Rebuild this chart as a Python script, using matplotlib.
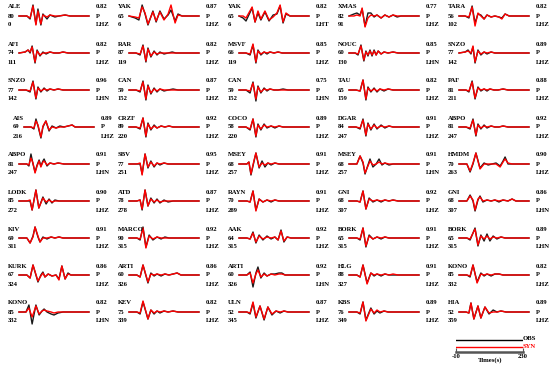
import matplotlib
matplotlib.use("Agg")
import matplotlib.pyplot as plt

W, H = 551, 368

STATIONS = ["ALE", "YAK", "YAK", "XMAS", "TARA",
            "AFI", "RAR", "MSVF", "NOUC", "SNZO",
            "SNZO", "CAN", "CAN", "TAU", "PAF",
            "AIS", "CRZF", "COCO", "DGAR", "ABPO",
            "ABPO", "SBV", "MSEY", "MSEY", "HMDM",
            "LODK", "ATD", "RAYN", "GNI", "GNI",
            "KIV", "MARCO", "AAK", "BORK", "BORK",
            "KURK", "ARTI", "ARTI", "HLG", "KONO",
            "KONO", "KEV", "ULN", "KBS", "HIA"]
AZIMUTHS = [80, 65, 65, 82, 56,
            74, 87, 66, 60, 77,
            77, 59, 59, 65, 81,
            69, 89, 58, 84, 81,
            81, 77, 68, 68, 70,
            85, 78, 70, 68, 68,
            69, 90, 64, 65, 65,
            67, 60, 60, 88, 85,
            85, 75, 52, 76, 52]
DISTANCES = [0, 6, 6, 91, 102,
             111, 119, 119, 130, 142,
             142, 152, 152, 159, 211,
             216, 220, 220, 247, 247,
             247, 251, 257, 257, 263,
             272, 278, 289, 307, 307,
             311, 315, 315, 315, 315,
             324, 326, 326, 327, 332,
             332, 339, 345, 349, 359]
CCS = ["0.82", "0.87", "0.82", "0.77", "0.82",
       "0.82", "0.82", "0.85", "0.85", "0.89",
       "0.96", "0.87", "0.75", "0.82", "0.88",
       "0.89", "0.92", "0.89", "0.91", "0.92",
       "0.91", "0.95", "0.91", "0.91", "0.90",
       "0.90", "0.87", "0.91", "0.92", "0.86",
       "0.91", "0.92", "0.92", "0.91", "0.89",
       "0.86", "0.86", "0.92", "0.91", "0.82",
       "0.82", "0.82", "0.87", "0.89", "0.89"]
PHASES = ["P"] * 45
COMPS = ["LHZ", "LHZ", "LHT", "LHZ", "LHZ",
         "LHZ", "LHZ", "LHZ", "LHN", "LHZ",
         "LHN", "LHZ", "LHN", "LHZ", "LHZ",
         "LHZ", "LHZ", "LHZ", "LHZ", "LHZ",
         "LHN", "LHZ", "LHZ", "LHN", "LHZ",
         "LHZ", "LHZ", "LHZ", "LHZ", "LHN",
         "LHZ", "LHZ", "LHZ", "LHZ", "LHN",
         "LHZ", "LHZ", "LHN", "LHZ", "LHZ",
         "LHN", "LHZ", "LHZ", "LHZ", "LHZ"]

# knot times (s) and amplitudes (display units)
TIMES = [
    [-10, 17, 28, 38, 48, 55, 65, 72, 86, 96, 113, 127, 148, 165, 230],
    [-10, 11, 24, 35, 45, 55, 72, 83, 96, 110, 124, 134, 148, 158, 172, 230],
    [-10, 4, 14, 35, 45, 55, 65, 79, 93, 107, 120, 131, 141, 151, 165, 230],
    [-10, 7, 17, 28, 35, 45, 55, 65, 76, 86, 100, 113, 127, 141, 155, 168, 230],
    [-10, 11, 24, 35, 45, 55, 65, 76, 86, 100, 113, 127, 137, 148, 162, 230],
    [-10, 11, 21, 28, 35, 45, 52, 62, 72, 83, 96, 110, 127, 141, 158, 230],
    [-10, 14, 28, 38, 48, 55, 65, 76, 86, 96, 110, 124, 138, 151, 165, 230],
    [-10, 14, 28, 38, 48, 55, 65, 76, 86, 96, 110, 124, 138, 151, 165, 230],
    [-10, 11, 21, 31, 41, 48, 55, 62, 69, 76, 83, 90, 100, 110, 124, 141, 158, 230],
    [-10, 11, 21, 31, 38, 45, 55, 65, 76, 86, 100, 113, 127, 141, 158, 230],
    [-10, 14, 28, 38, 48, 55, 65, 76, 86, 96, 110, 124, 141, 158, 230],
    [-10, 14, 28, 38, 48, 55, 65, 76, 86, 96, 110, 124, 141, 158, 230],
    [-10, 14, 28, 38, 48, 55, 65, 76, 86, 96, 110, 124, 141, 158, 230],
    [-10, 14, 28, 38, 48, 55, 65, 76, 86, 96, 110, 124, 141, 158, 230],
    [-10, 14, 24, 35, 45, 55, 65, 76, 86, 96, 110, 124, 141, 158, 230],
    [-10, 14, 24, 31, 38, 48, 55, 65, 76, 86, 100, 113, 127, 141, 155, 165, 230],
    [-10, 14, 28, 38, 48, 55, 65, 76, 86, 100, 113, 127, 141, 158, 230],
    [-10, 14, 28, 38, 48, 55, 65, 76, 86, 100, 113, 127, 141, 158, 230],
    [-10, 14, 28, 38, 48, 55, 65, 76, 86, 100, 113, 127, 141, 158, 230],
    [-10, 14, 28, 38, 48, 55, 65, 76, 86, 100, 113, 127, 141, 158, 230],
    [-10, 17, 24, 31, 38, 45, 52, 59, 65, 72, 76, 86, 96, 110, 124, 144, 230],
    [-10, 17, 28, 35, 45, 55, 65, 76, 86, 96, 110, 124, 141, 158, 230],
    [-10, 17, 24, 31, 41, 48, 59, 69, 79, 89, 100, 113, 127, 141, 158, 230],
    [-10, 17, 28, 38, 45, 55, 62, 72, 83, 93, 103, 113, 127, 141, 158, 230],
    [-10, 17, 28, 38, 48, 62, 76, 90, 103, 117, 131, 141, 148, 158, 172, 230],
    [-10, 17, 28, 35, 48, 58, 72, 83, 93, 103, 113, 127, 141, 158, 230],
    [-10, 17, 28, 35, 45, 55, 65, 76, 86, 96, 110, 124, 141, 158, 230],
    [-10, 17, 28, 38, 48, 59, 72, 86, 100, 113, 127, 141, 158, 230],
    [-10, 17, 28, 38, 48, 59, 72, 86, 100, 113, 127, 141, 158, 230],
    [-10, 17, 28, 38, 45, 55, 62, 72, 86, 100, 113, 127, 141, 158, 172, 185, 230],
    [-10, 17, 28, 38, 45, 55, 62, 72, 86, 100, 113, 127, 141, 158, 230],
    [-10, 17, 28, 38, 48, 59, 72, 86, 100, 113, 127, 141, 158, 230],
    [-10, 17, 28, 38, 48, 59, 72, 86, 100, 113, 124, 134, 144, 155, 168, 230],
    [-10, 17, 28, 38, 48, 59, 72, 86, 100, 113, 127, 141, 158, 230],
    [-10, 17, 28, 45, 55, 65, 76, 86, 96, 107, 120, 134, 148, 165, 230],
    [-10, 17, 28, 38, 55, 65, 72, 79, 90, 103, 117, 127, 137, 148, 158, 168, 230],
    [-10, 17, 28, 38, 55, 65, 76, 86, 100, 113, 127, 141, 155, 168, 230],
    [-10, 17, 28, 38, 48, 55, 65, 76, 86, 100, 113, 127, 137, 148, 158, 230],
    [-10, 17, 28, 38, 52, 65, 76, 86, 100, 113, 127, 141, 158, 230],
    [-10, 17, 28, 38, 52, 65, 76, 86, 100, 113, 127, 141, 158, 230],
    [-10, 14, 24, 35, 48, 59, 69, 76, 86, 100, 110, 124, 141, 158, 230],
    [-10, 17, 28, 38, 55, 65, 76, 86, 96, 110, 124, 141, 158, 230],
    [-10, 17, 28, 38, 48, 62, 76, 89, 103, 117, 131, 144, 158, 230],
    [-10, 17, 28, 38, 48, 65, 76, 86, 96, 110, 124, 141, 158, 230],
    [-10, 14, 24, 31, 41, 55, 65, 79, 93, 107, 120, 134, 151, 230],
]
OBS = [
    [0, 0, -3, 11, -8, 7, -9, 2, -3, 1, -1, 0, 1, 0, 0],
    [0, -2, -4, 11, 2, -9, 5, -6, 5, -3, 1, 6, -5, 2, 0, 0],
    [0, -2, -5, 8, -6, 3, -4, 4, -5, 1, 2, 10, -7, 2, 0, 0],
    [0, 2, 3, 1, 7, -10, 3, 3, -1, 1, -2, 1, -1, 1, -1, 0, 0],
    [0, 0, -2, 10, -7, 2, 1, -3, 1, -1, 0, -1, -2, 2, 0, 0],
    [0, 1, 3, 0, 7, -10, 3, -3, 1, -1, 1, 0, 0, 1, 0, 0],
    [0, 0, -2, 8, -9, 5, -4, 2, -2, 1, -1, 0, 1, 0, 0, 0],
    [0, 0, -2, 8, -10, 3, -2, 1, -1, 1, 0, 1, 0, 0, 0, 0],
    [0, 0, -2, 8, -8, 2, -3, 3, -3, 3, -2, 2, -1, 1, 0, 1, 0, 0],
    [0, 1, 3, -1, 6, -10, 3, -2, 1, -1, 1, 0, 0, 0, 0, 0],
    [0, 0, -2, 9, -9, 3, -2, 2, -1, 1, 0, 1, 0, 0, 0],
    [0, 0, -2, 9, -10, 5, -4, 2, -2, 1, -1, 0, 1, 0, 0],
    [0, 0, -3, 8, -11, 4, -3, 2, -1, 1, 0, 0, 1, 0, 0],
    [0, 0, -1, 10, -10, 3, -2, 2, -2, 1, -1, 1, 0, 0, 0],
    [0, 0, -2, 9, -9, 3, -1, 1, -1, 1, 0, 0, 1, 0, 0],
    [0, 0, -2, 8, 1, -11, 0, 6, -4, 1, -1, 1, 0, 1, 2, 0, 0],
    [0, 0, -2, 9, -10, 4, -3, 2, -1, 1, 0, 1, 0, 0, 0],
    [0, 0, -3, 8, -10, 3, -3, 3, -1, 1, -1, 1, 0, 0, 0],
    [0, 0, -2, 8, -9, 4, -3, 3, -2, 2, -1, 1, 0, 0, 0],
    [0, 0, -2, 8, -9, 3, -2, 2, -1, 1, 0, 0, 1, 0, 0],
    [0, 0, -2, 10, 0, -8, -1, 4, -2, 3, 5, -2, 1, 0, 1, 0, 0],
    [0, 0, 0, -10, 10, -4, 3, -3, 1, -1, 1, 0, 0, 0, 0],
    [0, 0, 2, -11, 2, 11, -4, 3, -3, 1, -1, 1, 0, 0, 0, 0],
    [0, 0, 8, 1, -10, -1, 5, -3, 0, 5, -1, 1, -1, 0, 0, 0],
    [0, 0, -8, 0, 11, -4, 1, -1, 0, 1, -2, 3, 7, 0, 0, 0],
    [0, 0, 0, -9, 11, -7, 4, -3, 2, -2, 1, 0, 0, 0, 0],
    [0, 0, 1, -9, 11, -5, 3, -2, 2, -2, 1, -1, 0, 0, 0],
    [0, 0, -1, 10, -9, 2, -1, 1, -1, 1, 0, 0, 0, 0],
    [0, 0, -1, 10, -8, 3, -1, 1, -1, 1, 0, 1, 0, 0],
    [0, 0, 6, 0, -10, 1, 5, -1, 1, 0, 1, -1, 1, 0, 2, 0, 0],
    [0, 0, -5, 2, 11, 1, -4, 1, -1, 1, 0, 1, 0, 0, 0],
    [0, 0, -2, 11, -9, 3, -2, 1, -1, 1, 0, 0, 0, 0],
    [0, 0, -1, 6, -5, 3, -2, 2, -1, 1, -2, 8, -4, 1, 0, 0],
    [0, 0, -2, 10, -9, 3, -1, 1, -1, 1, 0, 0, 0, 0],
    [0, 0, -2, 10, -8, 3, -3, 4, -3, 2, -1, 1, 0, 0, 0],
    [0, 0, -3, 10, -7, 0, 3, -2, 1, -1, 0, -4, 9, -4, 2, 0, 0],
    [0, 0, -2, 10, -8, 2, -1, 1, -1, 1, 0, 1, 2, 0, 0],
    [0, 0, 3, -12, 2, 8, -3, 2, -1, 1, 1, 2, 2, 0, 0, 0],
    [0, 0, -2, 10, -8, 2, -1, 1, -1, 1, 0, 0, 0, 0],
    [0, 0, -2, 10, -7, 2, -1, 1, -1, 1, 1, 0, 0, 0],
    [0, 0, 7, -12, 7, -3, 1, 3, 0, -2, -3, -1, 0, 0, 0],
    [0, 0, -2, 10, -7, 2, -2, 1, -1, 1, 0, 1, 0, 0],
    [0, 0, -2, 9, -6, 6, -8, 5, -3, 1, -1, 1, 0, 0],
    [0, 0, -2, 10, -8, 4, -2, 1, -1, 1, 0, 0, 0, 0],
    [0, 0, -1, 9, -7, 6, -6, 5, -2, 2, 0, 1, 0, 0],
]
SYN = [
    [0, 0, -2, 10, -9, 5, -8, 1, -1, 1, 0, 0, 1, 0, 0],
    [0, -1, -2, 9, 3, -8, 4, -5, 4, -4, 2, 11, -7, 1, 0, 0],
    [0, 0, -2, 9, -6, 5, -3, 5, -4, -1, 3, 11, -6, 3, 0, 0],
    [0, 0, 1, 0, 8, -11, -2, 1, 0, 1, -2, 1, -1, 1, 0, 0, 0],
    [0, 0, -1, 9, -10, 3, 0, -3, 1, -1, 0, -1, -3, 2, 0, 0],
    [0, 1, 3, 1, 6, -9, 2, -2, 0, 0, 1, 0, 0, 1, 0, 0],
    [0, 0, -1, 7, -8, 4, -3, 1, -1, 0, 0, 0, 0, 0, 0, 0],
    [0, 0, -1, 9, -9, 2, -1, 1, 0, 1, 0, 1, 0, 0, 0, 0],
    [0, 0, -1, 7, -7, 1, -2, 2, -2, 2, -2, 2, -1, 1, 0, 1, 0, 0],
    [0, 1, 2, 0, 7, -9, 2, -1, 1, 0, 1, 0, 0, 0, 0, 0],
    [0, 0, -1, 8, -8, 2, -1, 1, 0, 1, 0, 1, 0, 0, 0],
    [0, 0, -1, 8, -9, 4, -3, 1, -1, 1, 0, 0, 0, 0, 0],
    [0, 0, -1, 7, -9, 3, -2, 1, 0, 1, 0, 0, 0, 0, 0],
    [0, 0, -1, 10, -9, 2, -1, 1, -1, 1, 0, 1, 0, 0, 0],
    [0, 0, -1, 8, -8, 2, 0, 1, 0, 1, 0, 0, 1, 0, 0],
    [0, 0, -1, 6, 2, -10, 1, 6, -3, 0, -1, 0, 0, 1, 2, 0, 0],
    [0, 0, -1, 9, -9, 3, -2, 1, -1, 1, 0, 1, 0, 0, 0],
    [0, 0, -2, 8, -9, 2, -2, 2, 0, 1, 0, 1, 0, 0, 0],
    [0, 0, -1, 7, -8, 3, -2, 2, -1, 1, 0, 1, 0, 0, 0],
    [0, 0, -1, 7, -8, 2, -1, 1, 0, 1, 0, 0, 1, 0, 0],
    [0, 0, -1, 6, 1, -9, -2, 3, -3, 2, 3, -1, 1, 0, 1, 0, 0],
    [0, 0, 1, -11, 10, -3, 2, -2, 1, 0, 1, 0, 0, 0, 0],
    [0, 0, 2, -10, 3, 11, -3, 1, -1, 1, 0, 1, 0, 0, 0, 0],
    [0, 0, 8, 2, -9, -2, 3, -1, 0, 2, 0, 1, 0, 0, 0, 0],
    [0, 0, -7, 1, 11, -5, 0, 0, 0, 0, -3, 2, 5, 1, 0, 0],
    [0, 0, 1, -9, 11, -7, 3, -1, 1, -1, 0, 0, 0, 0, 0],
    [0, 0, 1, -8, 11, -5, 2, -1, 1, -1, 0, 0, 0, 0, 0],
    [0, 0, -1, 10, -10, 2, -1, 1, 0, 1, 0, 0, 0, 0],
    [0, 0, -1, 10, -8, 2, 0, 1, 0, 1, 0, 1, 0, 0],
    [0, 0, 5, 1, -9, 2, 4, 0, 1, 0, 1, 0, 1, 0, 2, 0, 0],
    [0, 0, -5, 1, 11, 2, -4, 0, 0, 1, 0, 1, 0, 0, 0],
    [0, 0, -1, 10, -10, 2, -1, 1, 0, 0, 0, 0, 0, 0],
    [0, 0, -1, 5, -4, 2, -1, 1, 0, 1, -2, 7, -3, 1, 0, 0],
    [0, 0, -1, 10, -8, 2, -1, 1, 0, 1, 0, 0, 0, 0],
    [0, 0, -1, 9, -7, 2, -1, 2, -1, 1, 0, 1, 0, 0, 0],
    [0, 0, -3, 10, -6, -1, 2, -2, 1, -1, 0, -5, 9, -4, 1, 0, 0],
    [0, 0, -2, 10, -7, 1, 0, 1, 0, 1, 0, 1, 2, 0, 0],
    [0, 0, 2, -8, 1, 5, -2, 1, -1, 1, 0, 1, 1, 0, 0, 0],
    [0, 0, -2, 10, -9, 2, 0, 1, 0, 1, 0, 1, 0, 0],
    [0, 0, -1, 10, -8, 1, 0, 1, 0, 1, 1, 0, 0, 0],
    [0, 0, 4, -5, 6, -2, 1, 2, 1, 0, -1, 0, 0, 0, 0],
    [0, 0, -1, 11, -7, 2, -1, 1, 0, 1, 0, 1, 0, 0],
    [0, 0, -1, 10, -5, 6, -7, 5, -2, 1, 0, 1, 0, 0],
    [0, 0, -1, 10, -9, 3, -1, 2, 0, 1, 0, 0, 0, 0],
    [0, 0, -1, 9, -7, 6, -6, 5, -1, 0, 0, 1, 0, 0],
]

T_MIN, T_MAX = -10, 230
SCALE_TICKS = [-10, 230]

for i in range(45):
    assert len(TIMES[i]) == len(OBS[i]) == len(SYN[i]), i

fig = plt.figure(figsize=(W / 100, H / 100), dpi=100)
fig.patch.set_facecolor("white")

FONT = dict(family="Liberation Serif", fontsize=4.8, color="black", weight="bold")


def add_px_axes(x, y, w, h):
    return fig.add_axes([x / W, 1 - (y + h) / H, w / W, h / H])


def ftext(x, y, s, **kw):
    d = dict(FONT)
    d.update(kw)
    fig.text(x / W, 1 - y / H, s, va="center", **d)


COL_X = 110
ROW_Y = 37
for i in range(45):
    r, c = divmod(i, 5)
    base = 16 + ROW_Y * r
    shift = 5 if (r == 3 and c == 0) else 0
    x0 = 19 + COL_X * c + shift
    ax = add_px_axes(x0, base - 13, 70, 26)
    ax.plot(TIMES[i], OBS[i], color="#1a1a1a", lw=1.0, solid_joinstyle="round", clip_on=False)
    ax.plot(TIMES[i], SYN[i], color="#ff0000", lw=1.0, solid_joinstyle="round", clip_on=False)
    ax.set_xlim(T_MIN, T_MAX)
    ax.set_ylim(-13, 13)
    ax.axis("off")
    lx = 8 + COL_X * c + shift
    rx = 96 + COL_X * c + shift
    ftext(lx, base - 9, STATIONS[i])
    ftext(lx, base, str(AZIMUTHS[i]))
    ftext(lx, base + 9, str(DISTANCES[i]))
    ftext(rx, base - 9, CCS[i])
    ftext(rx, base, PHASES[i])
    ftext(rx, base + 9, COMPS[i])

# legend lines
lg = add_px_axes(456, 336, 67, 14)
lg.plot([T_MIN, T_MAX], [1, 1], color="black", lw=1.0)
lg.plot([T_MIN, T_MAX], [0, 0], color="red", lw=1.0)
lg.set_xlim(T_MIN, T_MAX)
lg.set_ylim(-0.5, 1.5)
lg.axis("off")
ftext(523, 338, "OBS")
ftext(523, 346, "SYN", color="red")

# time scale bar
sb = add_px_axes(456, 344, 67, 8)
sb.set_xlim(T_MIN, T_MAX)
sb.set_ylim(0, 1)
for s in ["top", "left", "right"]:
    sb.spines[s].set_visible(False)
sb.spines["bottom"].set_color("#555555")
sb.spines["bottom"].set_linewidth(1.8)
sb.set_yticks([])
sb.set_xticks(SCALE_TICKS)
sb.set_xticklabels([str(t) for t in SCALE_TICKS], fontfamily="Liberation Serif",
                   fontsize=4.8, fontweight="bold")
sb.tick_params(axis="x", direction="in", length=3, width=0.8, pad=1.5, color="#555555")
sb.patch.set_alpha(0)
ftext(490, 360, "Times(s)", ha="center")

fig.savefig("out.png", dpi=100)
